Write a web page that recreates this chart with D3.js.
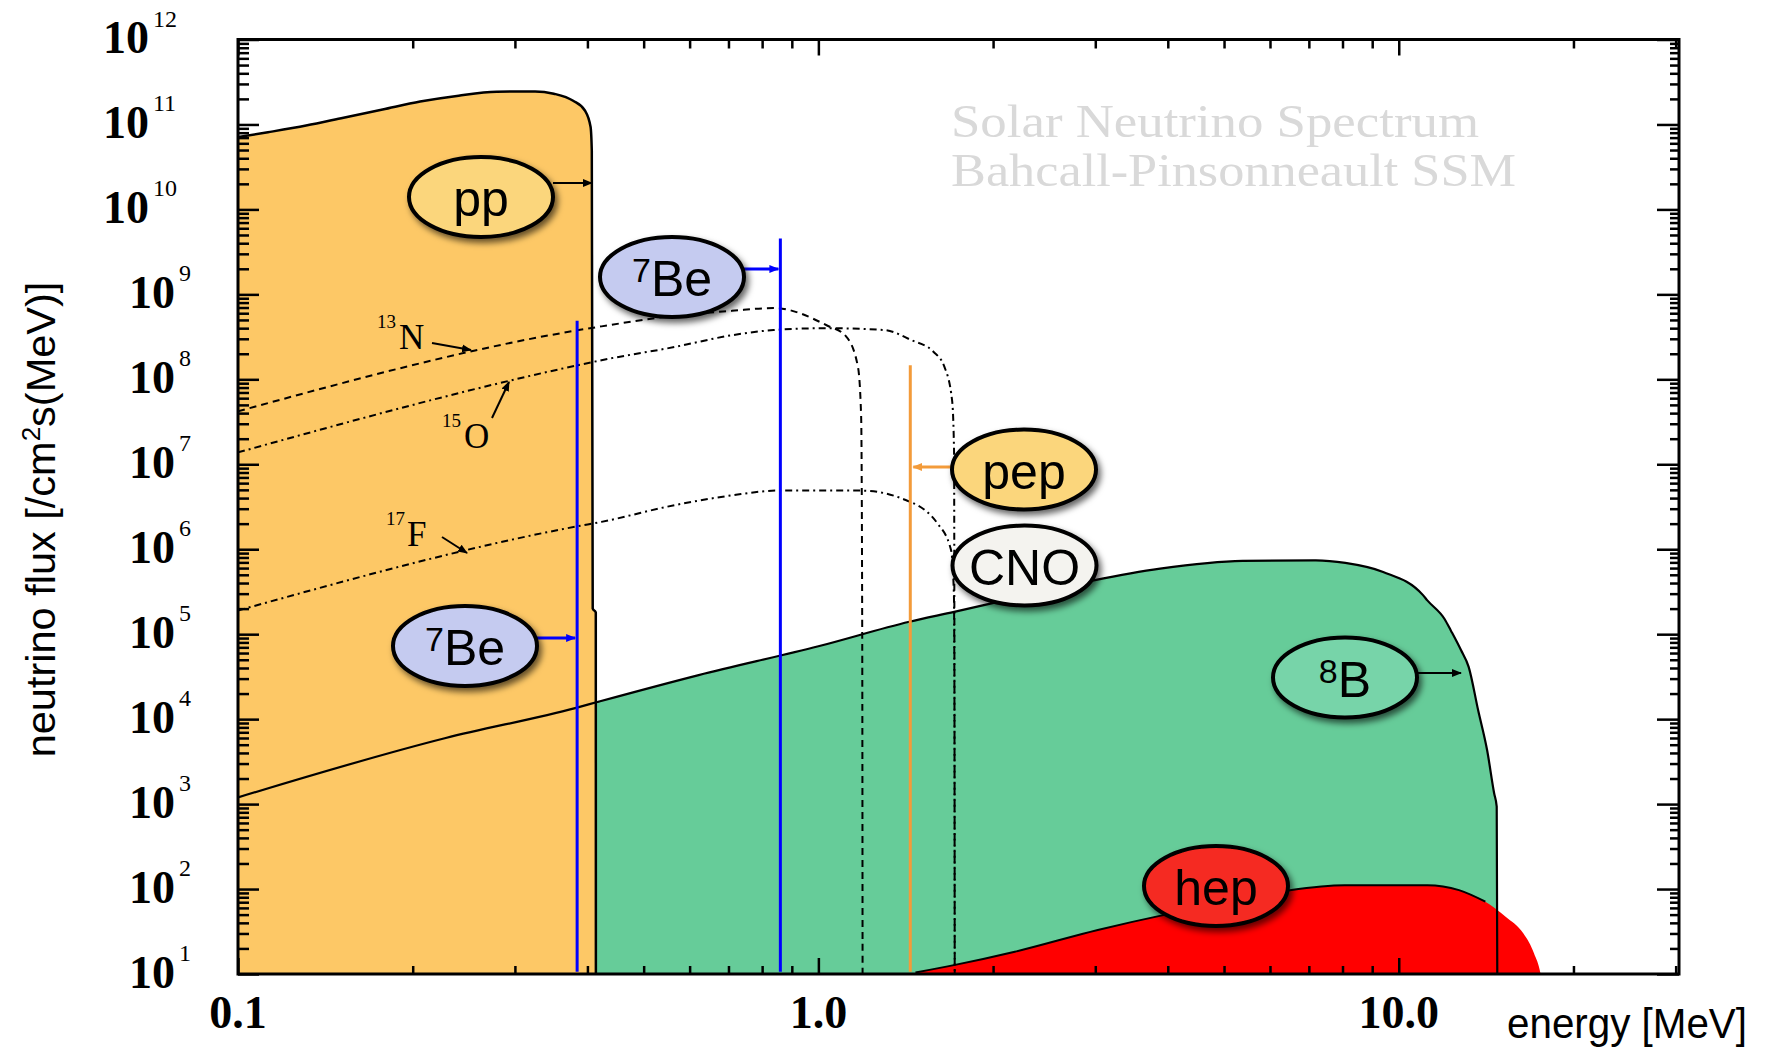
<!DOCTYPE html>
<html><head><meta charset="utf-8">
<script src="https://cdn.jsdelivr.net/npm/d3@7"></script>
<style>body{margin:0;background:#fff;} svg{display:block}</style>
</head><body>
<svg id="c" width="1769" height="1051"></svg>
<script>
// ---------------- DATA ----------------
// energies in MeV, fluxes in /cm^2/s/MeV (lines: /cm^2/s)
const ppEnergy = [0.1, 0.1126, 0.131, 0.152, 0.1775, 0.206, 0.240, 0.279, 0.325, 0.35, 0.378, 0.396, 0.405, 0.407, 0.4085, 0.4135, 0.4137];
const ppFlux   = [7.1e10, 8.1e10, 9.7e10, 1.2e11, 1.5e11, 1.86e11, 2.18e11, 2.42e11, 2.45e11, 2.3e11, 1.9e11, 1.46e11, 9.4e10, 4.9e10, 2e5, 1.8e5, 1];

const b8Energy = [0.1, 0.228, 0.381, 0.416, 0.622, 1.0, 1.435, 1.714, 2.2, 2.98, 3.88, 5.38, 7.2, 8.09, 9.4, 11.0, 11.2, 12.0, 12.3, 12.8, 13.2, 13.7, 14.2, 14.6, 14.75, 14.8];
const b8Flux   = [1.2e3, 6.0e3, 1.35e4, 1.59e4, 3.3e4, 7.2e4, 1.4e5, 1.83e5, 2.7e5, 4.3e5, 5.9e5, 7.3e5, 7.4e5, 6.9e5, 5.4e5, 2.9e5, 2.5e5, 1.5e5, 1.1e5, 6.5e4, 4.1e4, 1.28e4, 4.3e3, 1.34e3, 935, 1];

const hepEnergy = [1.47, 1.72, 2.18, 3.03, 3.91, 5.0, 6.49, 8.07, 11.2, 12.7, 14.1, 15.3, 16.4, 17.1, 17.6, 17.8];
const hepFlux   = [10.4, 12.8, 18.3, 33, 49, 68, 97, 111, 111, 97, 71, 47, 30, 17.5, 9, 5];

const n13Energy = [0.1, 0.384, 0.423, 0.565, 0.709, 0.837, 1.035, 1.116, 1.17, 1.185, 1.19, 1.192];
const n13Flux   = [4.2e7, 3.77e8, 4.2e8, 5.6e8, 6.4e8, 6.9e8, 4.3e8, 3.2e8, 1.4e8, 3.6e7, 1e5, 1];

const o15Energy = [0.1, 0.384, 0.423, 0.565, 0.709, 0.837, 1.035, 1.30, 1.445, 1.58, 1.649, 1.70, 1.713, 1.716, 1.718];
const o15Flux   = [1.38e7, 1.46e8, 1.68e8, 2.4e8, 3.3e8, 3.8e8, 4.0e8, 3.8e8, 2.9e8, 2.1e8, 1.4e8, 5.6e7, 1.45e7, 1e4, 1];

const f17Energy = [0.1, 0.384, 0.423, 0.565, 0.709, 0.85, 1.185, 1.40, 1.605, 1.693, 1.712, 1.716, 1.718];
const f17Flux   = [1.9e5, 1.86e6, 2.1e6, 3.3e6, 4.3e6, 4.9e6, 4.9e6, 3.9e6, 2.0e6, 9.7e5, 3e5, 1e4, 1];

const lineNames  = ["7Be", "7Be", "pep"];
const lineEnergy = [0.384, 0.86, 1.44];
const lineFlux   = [4.9e8, 4.56e9, 1.46e8];

const yTickExponents = [1,2,3,4,5,6,7,8,9,10,11,12];
const xTickValues = [0.1, 1, 10];
const xTickLabels = ["0.1", "1.0", "10.0"];
const xMinorTicks = [0.2,0.3,0.4,0.5,0.6,0.7,0.8,0.9,2,3,4,5,6,7,8,9,20,30];

const titleLines = ["Solar Neutrino Spectrum", "Bahcall-Pinsonneault SSM"];

// ---------------- LAYOUT ----------------
const L = 238, R = 1679, T = 39.5, B = 974;
const svg = d3.select('#c');
const x = d3.scaleLog().domain([0.1, 30.4]).range([L, R]);
const y = d3.scaleLog().domain([10, 1e12]).range([B, T]);

const defs = svg.append('defs');
defs.append('clipPath').attr('id','clip').append('rect')
  .attr('x', L).attr('y', T).attr('width', R-L).attr('height', B-T);
const f = defs.append('filter').attr('id','sh').attr('x','-30%').attr('y','-30%').attr('width','170%').attr('height','170%');
f.append('feDropShadow').attr('dx',3).attr('dy',4).attr('stdDeviation',3).attr('flood-color','#000').attr('flood-opacity',0.6);
function marker(id, color){
  defs.append('marker').attr('id',id).attr('markerUnits','userSpaceOnUse')
    .attr('markerWidth',12).attr('markerHeight',12).attr('refX',9).attr('refY',5)
    .attr('orient','auto').append('path').attr('d','M0,1 L10,5 L0,9 Z').attr('fill',color);
}
marker('mk','#000'); marker('mb','#0000ff'); marker('mo','#f39b3a');

const zip = (E,F) => E.map((e,i)=>[e,F[i]]);
const pp = zip(ppEnergy, ppFlux), b8 = zip(b8Energy, b8Flux), hep = zip(hepEnergy, hepFlux);
const area = d3.area().curve(d3.curveMonotoneX).x(d=>x(d[0])).y0(B+5).y1(d=>y(d[1]));
const line = d3.line().curve(d3.curveMonotoneX).x(d=>x(d[0])).y(d=>y(d[1]));

const plot = svg.append('g').attr('clip-path','url(#clip)');
plot.append('path').datum(b8).attr('d',area).attr('fill','#66cc99');
plot.append('path').datum(pp).attr('d',area).attr('fill','#fdc866');
plot.append('path').datum(hep).attr('d',area).attr('fill','#ff0000');
plot.append('path').datum(b8).attr('d',line).attr('fill','none').attr('stroke','#000').attr('stroke-width',2.2);
plot.append('path').datum(pp).attr('d',line).attr('fill','none').attr('stroke','#000').attr('stroke-width',2.5);
plot.append('path').datum(hep.filter(d=>d[0]<=14.2)).attr('d',line).attr('fill','none').attr('stroke','#000').attr('stroke-width',2);

const cno = [[n13Energy,n13Flux,'7,5'],[o15Energy,o15Flux,'7,4,2,4'],[f17Energy,f17Flux,'7,4,2,4']];
cno.forEach(c=>{
  plot.append('path').datum(zip(c[0],c[1])).attr('d',line).attr('fill','none')
    .attr('stroke','#000').attr('stroke-width',2).attr('stroke-dasharray',c[2]);
});

// monoenergetic lines
lineEnergy.forEach((e,i)=>{
  plot.append('line').attr('x1',x(e)).attr('x2',x(e)).attr('y1',y(lineFlux[i])).attr('y2',y(10.6))
    .attr('stroke', lineNames[i]==='pep' ? '#f39b3a' : '#0000ff').attr('stroke-width',3);
});

// ---------------- AXES ----------------
const yMajor = yTickExponents.map(e=>Math.pow(10,e));
const yMinor = [];
yTickExponents.slice(0,-1).forEach(e=>{ for(let m=2;m<=9;m++) yMinor.push(m*Math.pow(10,e)); });

function ax(gen, vals, size, tx, ty){
  const g = svg.append('g').attr('transform',`translate(${tx},${ty})`)
    .call(gen.tickValues(vals).tickSize(size).tickFormat(''));
  g.select('.domain').remove();
  g.selectAll('line').attr('stroke','#000').attr('stroke-width',2.5);
}
ax(d3.axisLeft(y), yMajor, -21, L, 0);
ax(d3.axisLeft(y), yMinor, -11, L, 0);
ax(d3.axisRight(y), yMajor, -22, R, 0);
ax(d3.axisRight(y), yMinor, -9, R, 0);
ax(d3.axisBottom(x), xTickValues, -16, 0, B);
ax(d3.axisBottom(x), xMinorTicks, -8, 0, B);
ax(d3.axisTop(x), xTickValues, -16, 0, T);
ax(d3.axisTop(x), xMinorTicks, -9, 0, T);

svg.append('rect').attr('x',L).attr('y',T).attr('width',R-L).attr('height',B-T)
  .attr('fill','none').attr('stroke','#000').attr('stroke-width',3);

// y tick labels
yTickExponents.forEach(e=>{
  const t = svg.append('text').attr('x', e>=10 ? 103 : 129).attr('y', y(Math.pow(10,e))+13.5)
    .attr('font-family','"Liberation Serif", "Times New Roman", serif');
  t.append('tspan').attr('font-size',46).attr('font-weight','bold').text('10');
  t.append('tspan').attr('font-size',24).attr('dx',4).attr('dy',-26.5).text(String(e));
});
// x tick labels
xTickValues.forEach((v,i)=>{
  svg.append('text').attr('x', x(v)).attr('y', 1028).attr('text-anchor','middle')
    .attr('font-family','"Liberation Serif", "Times New Roman", serif').attr('font-size',46)
    .attr('font-weight','bold').text(xTickLabels[i]);
});

// axis titles
svg.append('text').attr('x',1507).attr('y',1038).attr('font-family','"Liberation Sans", Arial, sans-serif')
  .attr('font-size',42).attr('textLength',240).attr('lengthAdjust','spacingAndGlyphs').attr('fill','#000').text('energy [MeV]');
const yt = svg.append('text').attr('transform','translate(55,519.5) rotate(-90)').attr('text-anchor','middle')
  .attr('font-family','"Liberation Sans", Arial, sans-serif').attr('font-size',41.5);
yt.append('tspan').text('neutrino flux [/cm');
yt.append('tspan').attr('font-size',26).attr('dy',-15).text('2');
yt.append('tspan').attr('dy',15).text('s(MeV)]');

// title (light grey)
titleLines.forEach((s,i)=>{
  svg.append('text').attr('x',951).attr('y',137+49*i).attr('fill','#d9d9d9')
    .attr('font-family','"Liberation Serif", "Times New Roman", serif').attr('font-size',46)
    .attr('textLength', i===0 ? 528 : 565).attr('lengthAdjust','spacingAndGlyphs').text(s);
});

// isotope annotations
const iso = [
  {sup:'13', el:'N', sx:377, ex:399, by:349, a:[432,343,471,350]},
  {sup:'15', el:'O', sx:442, ex:464, by:448, a:[492,418,509,382]},
  {sup:'17', el:'F', sx:386, ex:407, by:546, a:[442,537,467,553]},
];
iso.forEach(d=>{
  svg.append('text').attr('x',d.sx).attr('y',d.by-21).attr('font-size',19)
    .attr('font-family','"Liberation Serif", serif').text(d.sup);
  svg.append('text').attr('x',d.ex).attr('y',d.by).attr('font-size',35)
    .attr('font-family','"Liberation Serif", serif').text(d.el);
  svg.append('line').attr('x1',d.a[0]).attr('y1',d.a[1]).attr('x2',d.a[2]).attr('y2',d.a[3])
    .attr('stroke','#000').attr('stroke-width',2).attr('marker-end','url(#mk)');
});

// label arrows
const arrows = [
  [553, 183, x(0.4085)-1, 183, '#000', 'mk'],
  [744, 269, x(lineEnergy[1])-2, 269, '#0000ff', 'mb'],
  [537, 638, x(lineEnergy[0])-2, 638, '#0000ff', 'mb'],
  [951, 467, x(lineEnergy[2])+3, 467, '#f39b3a', 'mo'],
  [1418, 673, 1461, 673, '#000', 'mk'],
];
arrows.forEach(a=>{
  svg.append('line').attr('x1',a[0]).attr('y1',a[1]).attr('x2',a[2]).attr('y2',a[3])
    .attr('stroke',a[4]).attr('stroke-width',a[4]==='#000'?2:3).attr('marker-end',`url(#${a[5]})`);
});

// label ellipses
const labels = [
  {t:'pp', sup:'', cx:481, cy:197, fill:'#fbd67b'},
  {t:'Be', sup:'7', cx:672, cy:277, fill:'#c5cbf0'},
  {t:'Be', sup:'7', cx:465, cy:646, fill:'#c5cbf0'},
  {t:'pep', sup:'', cx:1024, cy:469.5, fill:'#fbd67b'},
  {t:'CNO', sup:'', cx:1024.5, cy:565.5, fill:'#f4f3ef'},
  {t:'B', sup:'8', cx:1345, cy:677.5, fill:'#77d4a9'},
  {t:'hep', sup:'', cx:1216, cy:886, fill:'#f52b22'},
];
labels.forEach(d=>{
  svg.append('ellipse').attr('cx',d.cx).attr('cy',d.cy).attr('rx',72).attr('ry',40)
    .attr('fill',d.fill).attr('stroke','#000').attr('stroke-width',4).attr('filter','url(#sh)');
  const t = svg.append('text').attr('x',d.cx).attr('y',d.cy+19).attr('text-anchor','middle')
    .attr('font-family','"Liberation Sans", Arial, sans-serif').attr('font-size',50);
  if(d.sup){
    t.append('tspan').attr('font-size',34).attr('dy',-14).text(d.sup);
    t.append('tspan').attr('dy',14).text(d.t);
  } else t.text(d.t);
});
</script>
</body></html>
